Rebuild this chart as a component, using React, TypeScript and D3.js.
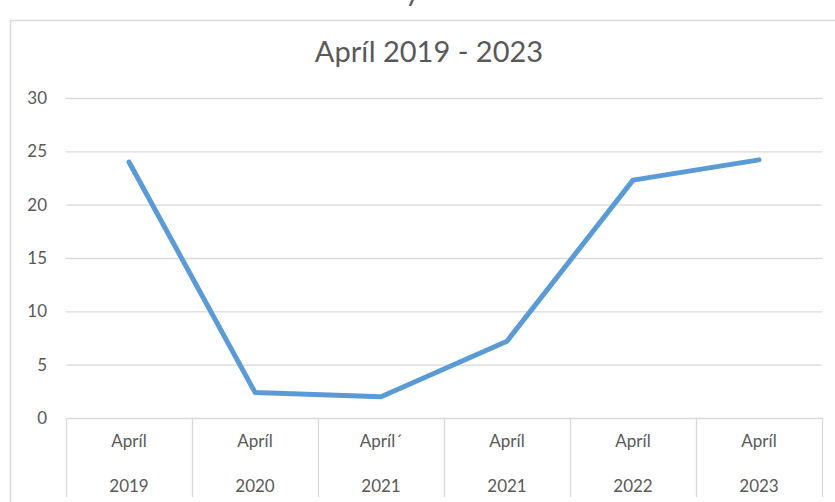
import React from "react";
import * as d3 from "d3";

const title = "Apríl 2019 - 2023";
const monthLabels = ["Apríl", "Apríl", "Apríl´", "Apríl", "Apríl", "Apríl"];
const yearLabels = ["2019", "2020", "2021", "2021", "2022", "2023"];
const values = [24.0, 2.4, 2.0, 7.2, 22.3, 24.2];
const yTicks = [0, 5, 10, 15, 20, 25, 30];

const W = 835;
const H = 502;
const plot = { left: 66, right: 822, top: 98, bottom: 418 };
const FONT = "Lato, 'Open Sans', sans-serif";

export default function App() {
  const keys = values.map((_, i) => String(i));
  const x = d3.scaleBand<string>().domain(keys).range([plot.left, plot.right]);
  const y = d3.scaleLinear().domain([0, 30]).range([plot.bottom, plot.top]);
  const line = d3
    .line<number>()
    .x((_, i) => (x(String(i)) as number) + x.bandwidth() / 2)
    .y((d) => y(d));

  const boundaries = [...keys.map((k) => x(k) as number), plot.right];

  return (
    <div style={{ position: "fixed", left: 0, top: 0 }}>
      <svg width={W} height={H} style={{ display: "block", background: "#fff" }}>
        <text x={405} y={1} fontFamily={FONT} fontSize={29} fill="#595959">y</text>
        <rect x={10.5} y={20.5} width={W} height={H} fill="none" stroke="#d9d9d9" strokeWidth={1.5} />
        <text x={(plot.left + plot.right) / 2 - 15} y={62} textAnchor="middle" fontFamily={FONT} fontSize={29} fill="#595959">
          {title}
        </text>
        {yTicks.map((t) => (
          <g key={t}>
            <line x1={plot.left} x2={plot.right} y1={y(t) + 0.5} y2={y(t) + 0.5} stroke="#d9d9d9" strokeWidth={1.3} />
            <text x={47} y={y(t)} dy="0.35em" textAnchor="end" fontFamily={FONT} fontSize={17} fill="#595959">
              {t}
            </text>
          </g>
        ))}
        {boundaries.map((b, i) => (
          <line key={i} x1={b + 0.5} x2={b + 0.5} y1={plot.bottom} y2={497} stroke="#d9d9d9" strokeWidth={1.3} />
        ))}
        {keys.map((k, i) => {
          const cx = (x(k) as number) + x.bandwidth() / 2;
          return (
            <g key={k}>
              <text x={cx} y={441} dy="0.35em" textAnchor="middle" fontFamily={FONT} fontSize={17} fill="#595959">
                {monthLabels[i]}
              </text>
              <text x={cx} y={486} dy="0.35em" textAnchor="middle" fontFamily={FONT} fontSize={17} fill="#595959">
                {yearLabels[i]}
              </text>
            </g>
          );
        })}
        <path d={line(values) || ""} fill="none" stroke="#5b9bd5" strokeWidth={5} strokeLinejoin="round" strokeLinecap="round" />
      </svg>
    </div>
  );
}
